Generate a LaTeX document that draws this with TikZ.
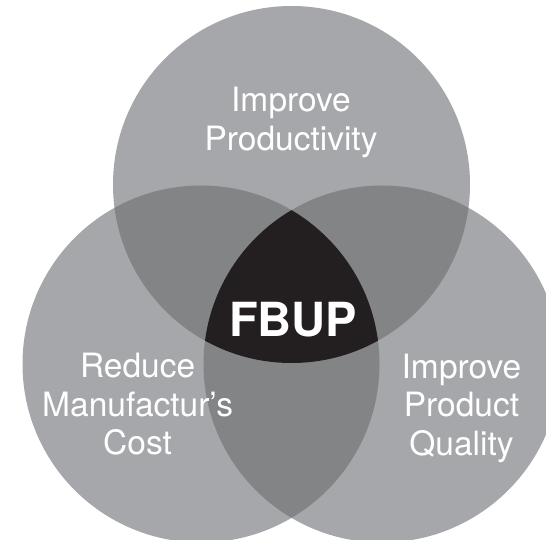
\documentclass[tikz,border=0pt]{standalone}
\usepackage{fontspec}
\setmainfont{TeX Gyre Heros}
\usepackage{xcolor}
\usepackage{tikz}
\usetikzlibrary{positioning}
\definecolor{lightgrey}{RGB}{166,167,170}
\definecolor{midgrey}{RGB}{131,132,134}
\definecolor{core}{RGB}{35,31,32}
\newcommand{\circrad}{178.5}
\tikzset{
    goal_text/.style={text=white, align=center, inner sep=0pt, font=\fontsize{33.5}{38.5}\selectfont},
    core_text/.style={text=white, inner sep=0pt, font=\fontsize{47}{56}\selectfont\bfseries},
    goal_circle/.style={fill=lightgrey},
    overlap/.style={fill=midgrey},
    centre/.style={fill=core}
}

\begin{document}
\begin{tikzpicture}[x=1pt, y=1pt]
    \useasboundingbox (0,0) rectangle (546,539);

    % Circle centres
    \coordinate (top_c) at (291.5,354.5);
    \coordinate (left_c) at (201,175);
    \coordinate (right_c) at (382,175);

    % Three goals
    \fill[goal_circle] (top_c) circle (\circrad);
    \fill[goal_circle] (left_c) circle (\circrad);
    \fill[goal_circle] (right_c) circle (\circrad);

    % Pairwise overlaps
    \begin{scope}
        \clip (top_c) circle (\circrad);
        \fill[overlap] (left_c) circle (\circrad);
        \fill[overlap] (right_c) circle (\circrad);
    \end{scope}
    \begin{scope}
        \clip (left_c) circle (\circrad);
        \fill[overlap] (right_c) circle (\circrad);
    \end{scope}

    % Common core
    \begin{scope}
        \clip (top_c) circle (\circrad);
        \clip (left_c) circle (\circrad);
        \fill[centre] (right_c) circle (\circrad);
    \end{scope}

    % Labels
    \node[goal_text] (productivity) at (291,416.8) {Improve\\Productivity};
    \node[goal_text] (cost) at (137.6,134.5) {Reduce\\Manufactur’s\\Cost};
    \node[goal_text] (quality) at (461.5,131) {Improve\\Product\\Quality};
    \node[core_text] (fbup) at (293,219) {FBUP};
\end{tikzpicture}
\end{document}
